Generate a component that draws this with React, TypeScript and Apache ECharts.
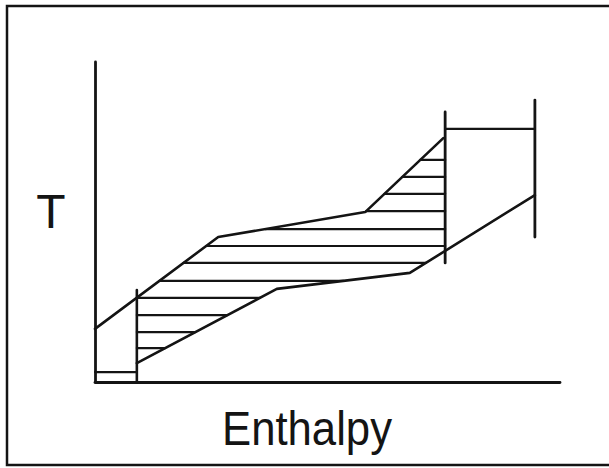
import React, { useEffect, useRef } from "react";
import * as echarts from "echarts";

// Data space: Enthalpy 0..100, T 0..100
const hotCurve: number[][] = [[0, 16.6], [26.5, 45.3], [58.1, 53.1], [74.9, 76.2]];
const coldCurve: number[][] = [[9.0, 5.9], [39.1, 29.1], [67.7, 34.1], [94.6, 58.4]];
const leftBar: number[][] = [[9.0, 0], [9.0, 28.75]];
const midBar: number[][] = [[75.3, 37.2], [75.3, 84.4]];
const rightBar: number[][] = [[94.6, 45.3], [94.6, 88.1]];
const topLink: number[][] = [[75.3, 79.1], [94.6, 79.1]];
const bottomLink: number[][] = [[0, 3.1], [9.0, 3.1]];
const hatchLevels: number[] = [10.6, 15.6, 20.9, 26.3, 31.6, 37.2, 42.5, 47.8, 53.4, 58.8, 64.1, 69.4];
const axisNameX = "Enthalpy";
const axisNameY = "T";

function xAt(curve: number[][], y: number): number {
  if (y <= curve[0][1]) return -Infinity;
  for (let i = 1; i < curve.length; i++) {
    const [x0, y0] = curve[i - 1];
    const [x1, y1] = curve[i];
    if (y <= y1) return x0 + ((y - y0) / (y1 - y0)) * (x1 - x0);
  }
  return Infinity;
}

export default function App() {
  const ref = useRef<HTMLDivElement>(null);
  useEffect(() => {
    if (!ref.current) return;
    const chart = echarts.init(ref.current, undefined, { renderer: "svg" });
    const ink = "#141414";
    const seg = (data: number[][], w: number) => ({
      type: "line",
      data,
      symbol: "none",
      silent: true,
      lineStyle: { color: ink, width: w, cap: "round" },
    });
    const hatch = hatchLevels.map((y) => {
      const left = Math.max(leftBar[0][0], xAt(hotCurve, y));
      const right = Math.min(midBar[0][0], xAt(coldCurve, y));
      return seg([[left, y], [right, y]], 2.2);
    });
    chart.setOption({
      animation: false,
      grid: { left: 95, top: 62, right: 49, bottom: 86 },
      xAxis: {
        type: "value",
        min: 0,
        max: 100,
        axisLine: { show: true, lineStyle: { color: ink, width: 2.8 } },
        axisTick: { show: false },
        axisLabel: { show: false },
        splitLine: { show: false },
      },
      yAxis: {
        type: "value",
        min: 0,
        max: 100,
        axisLine: { show: true, lineStyle: { color: ink, width: 2.8 } },
        axisTick: { show: false },
        axisLabel: { show: false },
        splitLine: { show: false },
      },
      graphic: [
        {
          type: "rect",
          shape: { x: 7, y: 6, width: 606, height: 459 },
          style: { fill: "none", stroke: ink, lineWidth: 2.5 },
          silent: true,
        },
        {
          type: "text",
          x: 51,
          y: 235,
          style: {
            text: axisNameY,
            font: '48px "Liberation Sans"',
            fill: ink,
            textAlign: "center",
            textVerticalAlign: "bottom",
          },
        },
        {
          type: "text",
          x: 307,
          y: 452,
          scaleX: 0.91,
          style: {
            text: axisNameX,
            font: '48px "Liberation Sans"',
            fill: ink,
            textAlign: "center",
            textVerticalAlign: "bottom",
          },
        },
      ],
      series: [
        seg(hotCurve, 2.6),
        seg(coldCurve, 2.6),
        seg(leftBar, 2.6),
        seg(midBar, 2.8),
        seg(rightBar, 2.8),
        seg(topLink, 2.2),
        seg(bottomLink, 2.2),
        ...hatch,
      ],
    });
    return () => chart.dispose();
  }, []);
  return (
    <div
      ref={ref}
      style={{ position: "absolute", left: 0, top: 0, width: 609, height: 468, background: "#fff" }}
    />
  );
}
